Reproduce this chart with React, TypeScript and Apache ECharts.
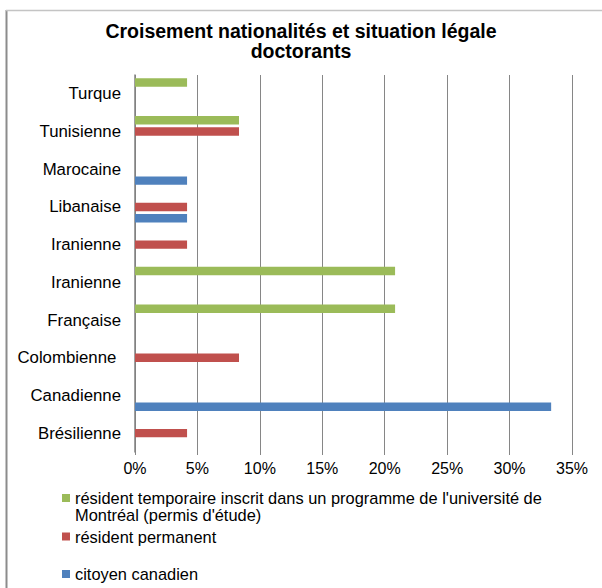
import React, { useEffect, useRef } from "react";
import * as echarts from "echarts";

const titleText = "Croisement nationalités et situation légale\ndoctorants";
const categories = [
  "Brésilienne",
  "Canadienne",
  "Colombienne ",
  "Française",
  "Iranienne",
  "Iranienne",
  "Libanaise",
  "Marocaine",
  "Tunisienne",
  "Turque",
];
const seriesNames = [
  "résident temporaire inscrit dans un programme de l'université de\nMontréal (permis d'étude)",
  "résident permanent",
  "citoyen canadien",
];
const temporaire = [null, null, null, 20.83, 20.83, null, null, null, 8.33, 4.17];
const permanent = [4.17, null, 8.33, null, null, 4.17, 4.17, null, 8.33, null];
const citoyen = [null, 33.33, null, null, null, null, 4.17, 4.17, null, null];
const colors = ["#9BBB59", "#C0504D", "#4F81BD"];
const xTicks = { min: 0, max: 35, interval: 5 };

const FONT = "'Liberation Sans', Arial, sans-serif";

export default function App() {
  const ref = useRef<HTMLDivElement>(null);
  useEffect(() => {
    if (!ref.current) return;
    const chart = echarts.init(ref.current, null, { renderer: "svg" });
    const values = [temporaire, permanent, citoyen];
    const legendTextStyle = { fontFamily: FONT, fontSize: 16.4, color: "#000", lineHeight: 17 };
    chart.setOption({
      animation: false,
      backgroundColor: "#fff",
      textStyle: { fontFamily: FONT },
      title: {
        text: titleText,
        left: "center",
        top: 21,
        padding: [0, 0, 0, 10],
        textStyle: { fontFamily: FONT, fontSize: 19.5, fontWeight: "bold", color: "#000", lineHeight: 20 },
      },
      graphic: [
        { type: "line", shape: { x1: 6.5, y1: 10, x2: 6.5, y2: 588 }, style: { stroke: "#8c8c8c", lineWidth: 2 } },
        { type: "line", shape: { x1: 6, y1: 10.5, x2: 602, y2: 10.5 }, style: { stroke: "#c4c4c4", lineWidth: 1.5 } },
      ],
      legend: [
        {
          data: [{ name: seriesNames[0], icon: "path://M0 0h8v8H0zM0 24h0.01v0.01H0z" }],
          orient: "vertical",
          left: 62,
          top: 489,
          padding: 0,
          itemWidth: 8,
          itemHeight: 24,
          textStyle: legendTextStyle,
        },
        {
          data: [{ name: seriesNames[1], icon: "rect" }],
          orient: "vertical",
          left: 62,
          top: 528,
          padding: 0,
          itemWidth: 8,
          itemHeight: 8,
          textStyle: legendTextStyle,
        },
        {
          data: [{ name: seriesNames[2], icon: "rect" }],
          orient: "vertical",
          left: 62,
          top: 565.5,
          padding: 0,
          itemWidth: 8,
          itemHeight: 8,
          textStyle: legendTextStyle,
        },
      ],
      grid: { left: 135, right: 30, top: 75, bottom: 136 },
      xAxis: {
        type: "value",
        min: xTicks.min,
        max: xTicks.max,
        interval: xTicks.interval,
        axisLine: { show: false },
        axisTick: { show: true, length: 3, lineStyle: { color: "#868686" } },
        splitLine: { show: true, lineStyle: { color: "#868686", width: 1 } },
        axisLabel: {
          formatter: (v: number) => `${v}%`,
          fontFamily: FONT,
          fontSize: 16,
          color: "#000",
          margin: 8,
        },
      },
      yAxis: {
        type: "category",
        data: categories,
        axisLine: { show: true, lineStyle: { color: "#808080", width: 1.5 } },
        axisTick: { show: false },
        axisLabel: { fontFamily: FONT, fontSize: 16.8, color: "#000", margin: 14 },
      },
      series: seriesNames.map((name, i) => ({
        name,
        type: "bar",
        data: values[i],
        barWidth: 8.4,
        barGap: "35%",
        itemStyle: { color: colors[i] },
      })),
    });
    return () => chart.dispose();
  }, []);
  return (
    <div
      ref={ref}
      style={{ position: "fixed", left: 0, top: 0, width: 602, height: 588 }}
    />
  );
}
